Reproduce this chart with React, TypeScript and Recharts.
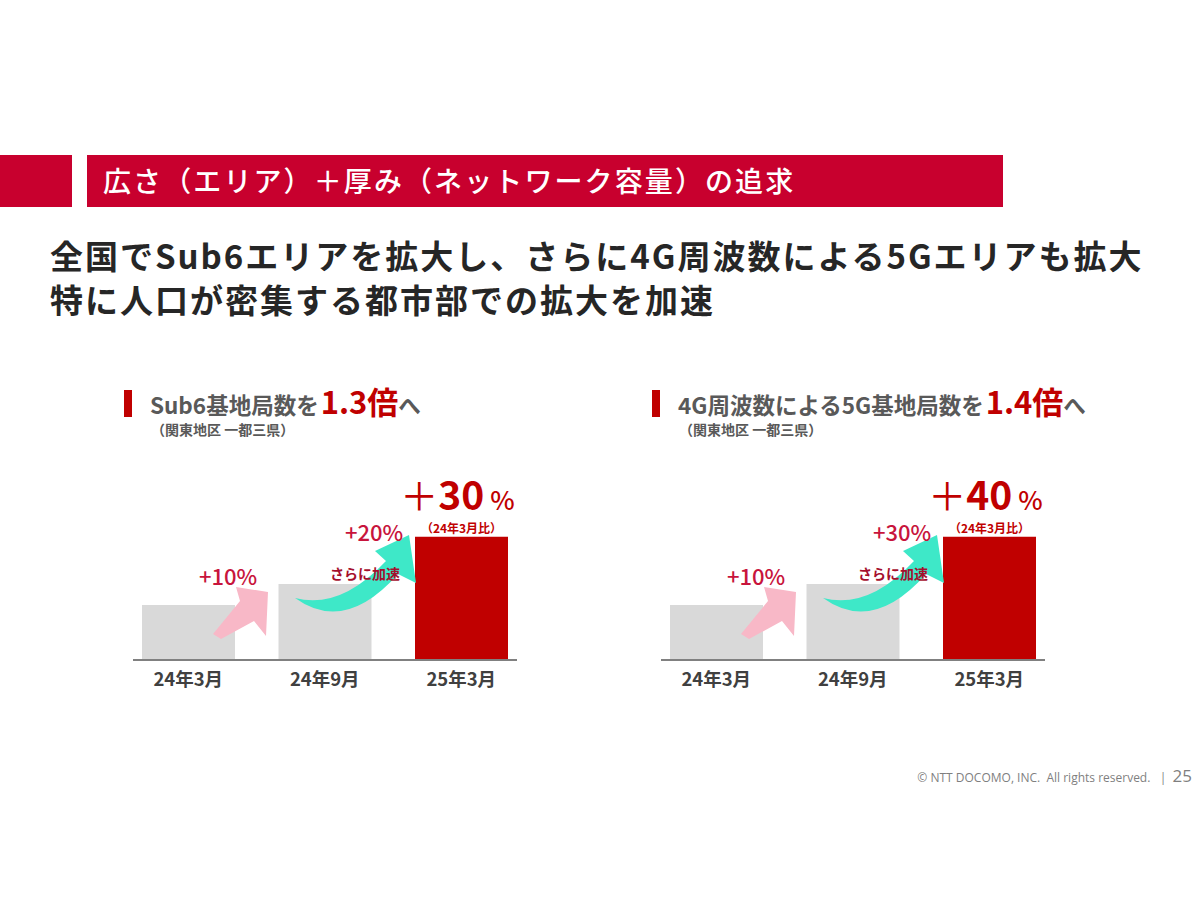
import React from 'react';
import { Bar, BarChart, Cell, LabelList, XAxis, YAxis } from 'recharts';

const categories = ['24年3月', '24年9月', '25年3月'];
// schematic index values (24年3月 = 100)
const sub6Index = [100, 138, 224];
const nrIndex = [100, 138, 224];
const sub6Steps = ['+10%', '+20%'];
const nrSteps = ['+10%', '+30%'];
const sub6Total = '30';
const nrTotal = '40';

const FONT = '"Noto Sans CJK JP", "Noto Sans", sans-serif';
const GRAY_BAR = '#d9d9d9';
const RED = '#c00000';
const CRIMSON = '#c8143c';
const TEXT_GRAY = '#595959';

const barColors = [GRAY_BAR, GRAY_BAR, RED];

const buildRows = (values: number[]) => categories.map((name, i) => ({ name, value: values[i] }));

const TotalLabel = (total: string) => (props: any) => {
	const { x, y, width, index } = props;
	if (index !== 2) return null;
	const cx = Number(x) + Number(width) / 2;
	const top = Number(y);
	return (
		<g>
			<text
				x={cx - 4}
				y={top - 27}
				textAnchor='middle'
				fontFamily={FONT}
				fill={RED}
			>
				<tspan
					fontSize={38}
					fontWeight={400}
				>
					＋
				</tspan>
				<tspan
					fontSize={39}
					fontWeight={700}
				>
					{total}
				</tspan>
				<tspan
					fontSize={26}
					fontWeight={500}
					dx={6}
				>
					%
				</tspan>
			</text>
			<text
				x={cx}
				y={top - 4}
				textAnchor='middle'
				fontFamily={FONT}
				fontSize={12}
				fontWeight={700}
				fill={RED}
			>
				（24年3月比）
			</text>
		</g>
	);
};

const StepChart: React.FC<{ values: number[]; total: string; left: number }> = ({ values, total, left }) => (
	<div style={{ position: 'absolute', left, top: 440 }}>
		<BarChart
			width={420}
			height={260}
			data={buildRows(values)}
			margin={{ top: 0, right: 10.5, bottom: 0, left: 0 }}
		>
			<XAxis
				dataKey='name'
				height={40}
				tickLine={false}
				tickMargin={7}
				axisLine={{ stroke: '#808080', strokeWidth: 2, strokeDasharray: '0 13 384 200' }}
				tick={{ fontSize: 18.5, fontWeight: 700, fill: '#404040', fontFamily: FONT }}
			/>
			<YAxis
				hide
				domain={[0, 400]}
			/>
			<Bar
				dataKey='value'
				barSize={93}
				isAnimationActive={false}
			>
				{values.map((v, i) => (
					<Cell
						key={`${categories[i]}-${v}`}
						fill={barColors[i]}
					/>
				))}
				<LabelList
					dataKey='value'
					content={TotalLabel(total)}
				/>
			</Bar>
		</BarChart>
	</div>
);

const Arrows: React.FC<{ dx: number; steps: string[] }> = ({ dx, steps }) => (
	<g transform={`translate(${dx},0)`}>
		<polygon
			points='213,634 240,601 236,587 268,592 266,636 254,621 221,639'
			fill='#f8b8c7'
		/>
		<path
			d='M 295 598 Q 345 634 398 574 L 416 583 L 409 535 L 375 551 L 386 561 Q 340 610 295 598 Z'
			fill='#3ee8c8'
		/>
		<text
			x={199}
			y={585}
			fontFamily={FONT}
			fontSize={22}
			fontWeight={500}
			fill={CRIMSON}
		>
			{steps[0]}
		</text>
		<text
			x={345}
			y={541}
			fontFamily={FONT}
			fontSize={22}
			fontWeight={500}
			fill={CRIMSON}
		>
			{steps[1]}
		</text>
		<text
			x={330}
			y={579}
			fontFamily={FONT}
			fontSize={14}
			fontWeight={700}
			fill='#a50f2d'
		>
			さらに加速
		</text>
	</g>
);

const ChartTitle: React.FC<{ left: number; lead: string; times: string }> = ({ left, lead, times }) => (
	<>
		<div style={{ position: 'absolute', left, top: 390, width: 8, height: 27, background: RED }} />
		<div
			style={{
				position: 'absolute',
				left: left + 26,
				top: 382,
				display: 'flex',
				alignItems: 'baseline',
				whiteSpace: 'nowrap',
				fontFamily: FONT,
				fontWeight: 700,
				lineHeight: 1.2,
				color: TEXT_GRAY
			}}
		>
			<span style={{ fontSize: 22.5 }}>{lead}</span>
			<span style={{ fontSize: 31, color: RED, marginLeft: 2 }}>{times}</span>
			<span style={{ fontSize: 22.5 }}>へ</span>
		</div>
		<div
			style={{
				position: 'absolute',
				left: left + 27,
				top: 422,
				fontFamily: FONT,
				fontWeight: 700,
				fontSize: 14,
				lineHeight: 1,
				color: TEXT_GRAY,
				whiteSpace: 'nowrap'
			}}
		>
			（関東地区 一都三県）
		</div>
	</>
);

const App: React.FC = () => (
	<div style={{ position: 'absolute', left: 0, top: 0, width: 1200, height: 900, background: '#ffffff', overflow: 'hidden', fontFamily: FONT }}>
		<div style={{ position: 'absolute', left: 0, top: 155, width: 72, height: 52, background: '#c8002e' }} />
		<div style={{ position: 'absolute', left: 87, top: 155, width: 916, height: 52, background: '#c8002e' }} />
		<div
			style={{
				position: 'absolute',
				left: 103,
				top: 166,
				fontSize: 28,
				lineHeight: 1,
				fontWeight: 500,
				letterSpacing: 2.1,
				color: '#ffffff',
				whiteSpace: 'nowrap'
			}}
		>
			広さ（エリア）＋厚み（ネットワーク容量）の追求
		</div>
		<div
			style={{
				position: 'absolute',
				left: 50,
				top: 233,
				fontSize: 33,
				lineHeight: '44px',
				fontWeight: 700,
				letterSpacing: 2,
				color: '#262626',
				whiteSpace: 'nowrap'
			}}
		>
			<div>全国でSub6エリアを拡大し、さらに4G周波数による5Gエリアも拡大</div>
			<div>特に人口が密集する都市部での拡大を加速</div>
		</div>

		<ChartTitle
			left={124}
			lead='Sub6基地局数を'
			times='1.3倍'
		/>
		<ChartTitle
			left={652}
			lead='4G周波数による5G基地局数を'
			times='1.4倍'
		/>

		<StepChart
			values={sub6Index}
			total={sub6Total}
			left={120}
		/>
		<StepChart
			values={nrIndex}
			total={nrTotal}
			left={648}
		/>

		<svg
			width={1200}
			height={900}
			style={{ position: 'absolute', left: 0, top: 0, pointerEvents: 'none' }}
		>
			<Arrows
				dx={0}
				steps={sub6Steps}
			/>
			<Arrows
				dx={528}
				steps={nrSteps}
			/>
		</svg>

		<div
			style={{
				position: 'absolute',
				right: 8,
				top: 764,
				display: 'flex',
				alignItems: 'baseline',
				fontFamily: '"Open Sans", sans-serif',
				color: '#7f7f7f',
				whiteSpace: 'pre'
			}}
		>
			<span style={{ fontSize: 12 }}>© NTT DOCOMO, INC.  All rights reserved.   |  </span>
			<span style={{ fontSize: 17 }}>25</span>
		</div>
	</div>
);

export default App;
